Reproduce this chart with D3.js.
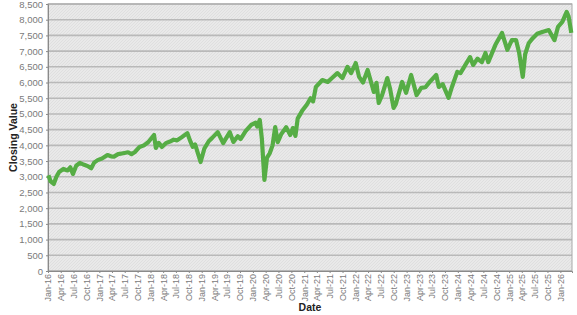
<!DOCTYPE html>
<html>
<head>
<meta charset="utf-8">
<script src="https://d3js.org/d3.v7.min.js"></script>
<style>
  body { margin: 0; background: #fff; }
  text { font-family: "Liberation Sans", Arial, sans-serif; }
</style>
</head>
<body>
<div id="my_dataviz"></div>
<script>

// closing values
var dates = ["2016-01-04","2016-01-20","2016-02-11","2016-03-01","2016-03-20","2016-04-20","2016-05-20","2016-06-08","2016-06-27","2016-07-20",
  "2016-08-15","2016-09-15","2016-10-15","2016-11-04","2016-11-25","2016-12-20","2017-01-20","2017-02-28","2017-03-25","2017-04-15",
  "2017-05-15","2017-06-20","2017-07-25","2017-08-18","2017-09-10","2017-10-15","2017-11-15","2017-12-15","2018-01-26","2018-02-08",
  "2018-02-28","2018-03-23","2018-04-20","2018-05-20","2018-06-15","2018-07-10","2018-08-15","2018-09-20","2018-10-10","2018-10-29",
  "2018-11-15","2018-12-24","2019-01-20","2019-02-20","2019-03-15","2019-04-25","2019-06-03","2019-07-20","2019-08-15","2019-09-15",
  "2019-10-05","2019-11-10","2019-12-20","2020-01-20","2020-01-31","2020-02-19","2020-03-05","2020-03-23","2020-04-10","2020-04-30",
  "2020-05-20","2020-06-08","2020-06-26","2020-07-20","2020-08-25","2020-09-23","2020-10-12","2020-10-30","2020-11-15","2020-12-20",
  "2021-01-20","2021-02-15","2021-03-05","2021-03-25","2021-05-10","2021-06-18","2021-07-20","2021-08-25","2021-09-30","2021-11-05",
  "2021-12-01","2022-01-03","2022-01-27","2022-02-24","2022-03-29","2022-05-12","2022-05-31","2022-06-16","2022-07-10","2022-08-16",
  "2022-09-05","2022-09-30","2022-10-15","2022-11-30","2022-12-28","2023-02-02","2023-03-13","2023-04-15","2023-05-15","2023-06-15",
  "2023-07-31","2023-08-18","2023-09-15","2023-10-27","2023-11-20","2023-12-28","2024-01-20","2024-02-10","2024-03-28","2024-04-19",
  "2024-05-20","2024-06-20","2024-07-16","2024-08-05","2024-09-25","2024-11-11","2024-12-19","2025-01-20","2025-02-19","2025-03-13",
  "2025-04-08","2025-04-25","2025-05-20","2025-06-20","2025-07-20","2025-08-25","2025-10-10","2025-11-20","2025-12-15","2026-01-15",
  "2026-02-15","2026-03-01","2026-03-20"];

var closes = [3050,2850,2770,3000,3150,3250,3200,3300,3090,3350,
  3440,3380,3330,3270,3450,3530,3580,3690,3650,3640,
  3720,3750,3780,3720,3780,3950,4000,4100,4330,3920,
  4080,3950,4070,4120,4180,4160,4270,4390,4150,3950,
  4030,3470,3900,4130,4230,4420,4070,4420,4110,4290,
  4200,4450,4650,4720,4600,4810,4200,2900,3600,3750,
  4000,4580,4100,4350,4580,4330,4550,4300,4850,5120,
  5300,5500,5400,5860,6080,6020,6150,6300,6140,6500,
  6300,6620,6180,6000,6400,5700,5990,5350,5600,6140,
  5800,5190,5300,6020,5670,6240,5600,5830,5850,6020,
  6240,5860,5950,5510,5860,6340,6300,6460,6810,6560,
  6760,6650,6940,6650,7200,7580,7040,7350,7350,6950,
  6180,6900,7250,7420,7550,7610,7670,7350,7770,7930,
  8250,8100,7580];

var yTicks = [0,500,1000,1500,2000,2500,3000,3500,4000,4500,5000,5500,6000,6500,7000,7500,8000,8500];

var margin = {top: 4, right: 5, bottom: 44, left: 48},
    width = 577 - margin.left - margin.right,
    height = 315 - margin.top - margin.bottom;

var svg = d3.select("#my_dataviz")
  .append("svg")
    .attr("width", 577)
    .attr("height", 315)
  .append("g")
    .attr("transform", "translate(" + margin.left + "," + margin.top + ")");

var parse = d3.timeParse("%Y-%m-%d");
var data = dates.map(function(d, i) { return {date: parse(d), value: closes[i]}; });

var x = d3.scaleTime()
  .domain([new Date(2016, 0, 1), new Date(2026, 2, 25)])
  .range([0, width]);

var y = d3.scaleLinear()
  .domain([0, 8500])
  .range([height, 0]);

// hatched grey plot background
var defs = svg.append("defs");
var pat = defs.append("pattern")
  .attr("id", "hatch")
  .attr("patternUnits", "userSpaceOnUse")
  .attr("width", 3).attr("height", 3);
pat.append("rect").attr("width", 3).attr("height", 3).attr("fill", "#e9e9e9");
pat.append("path").attr("d", "M0,3 L3,0").attr("stroke", "#dcdcdc").attr("stroke-width", 0.8);

svg.append("rect")
  .attr("width", width)
  .attr("height", height)
  .attr("fill", "url(#hatch)");

// gridlines
svg.append("g")
  .selectAll("line")
  .data(yTicks)
  .enter()
  .append("line")
    .attr("x1", 0)
    .attr("x2", width)
    .attr("y1", function(d) { return y(d); })
    .attr("y2", function(d) { return y(d); })
    .attr("stroke", "#b9b9b9")
    .attr("stroke-width", 1.6);

// frame
svg.append("rect")
  .attr("width", width)
  .attr("height", height)
  .attr("fill", "none")
  .attr("stroke", "#a8a8a8")
  .attr("stroke-width", 1);

// Y axis
var yAxis = svg.append("g")
  .call(d3.axisLeft(y).tickValues(yTicks).tickSize(2).tickFormat(d3.format(",")));
yAxis.select(".domain").attr("stroke", "#8a8a8a");
yAxis.selectAll(".tick line").attr("stroke", "#8a8a8a");
yAxis.selectAll("text")
  .attr("fill", "#7a7a7a")
  .style("font-size", "9.5px");

// X axis, quarterly labels
var xTicks = d3.timeMonth.range(new Date(2016, 0, 1), new Date(2026, 0, 2), 3);
var xAxis = svg.append("g")
  .attr("transform", "translate(0," + height + ")")
  .call(d3.axisBottom(x).tickValues(xTicks).tickSize(2).tickFormat(d3.timeFormat("%b-%y")));
xAxis.select(".domain").attr("stroke", "#8a8a8a");
xAxis.selectAll(".tick line").attr("stroke", "#8a8a8a");
xAxis.selectAll("text")
  .attr("fill", "#7a7a7a")
  .style("font-size", "9px")
  .style("text-anchor", "end")
  .attr("dx", "-3")
  .attr("dy", "0.32em")
  .attr("x", 0)
  .attr("y", 0)
  .attr("transform", "rotate(-90)");

// the line
svg.append("path")
  .datum(data)
  .attr("fill", "none")
  .attr("stroke", "#56ad45")
  .attr("stroke-width", 4.2)
  .attr("stroke-linejoin", "round")
  .attr("d", d3.line()
    .x(function(d) { return x(d.date); })
    .y(function(d) { return y(d.value); }));

// axis titles
svg.append("text")
  .attr("x", width / 2)
  .attr("y", height + 40)
  .attr("text-anchor", "middle")
  .style("font-size", "10.5px")
  .style("font-weight", "bold")
  .attr("fill", "#222")
  .text("Date");

svg.append("text")
  .attr("transform", "rotate(-90)")
  .attr("x", -(height / 2))
  .attr("y", -margin.left + 17)
  .attr("text-anchor", "middle")
  .style("font-size", "10.5px")
  .style("font-weight", "bold")
  .attr("fill", "#222")
  .text("Closing Value");

</script>
</body>
</html>
